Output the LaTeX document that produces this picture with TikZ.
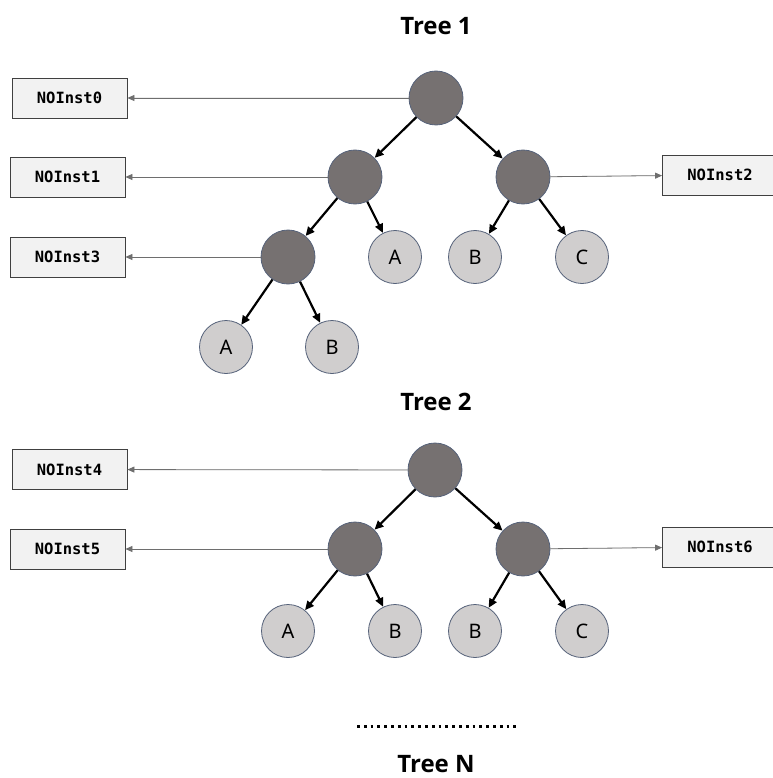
\documentclass[tikz,border=0pt]{standalone}
\usepackage{fontspec}
\usetikzlibrary{arrows.meta}
\newfontfamily\titlefont{Open Sans}
\newfontfamily\instfont{DejaVu Sans Mono}
\newfontfamily\leaffont{Noto Sans}
\definecolor{innerfill}{HTML}{767171}
\definecolor{leaffill}{HTML}{D0CECE}
\definecolor{ringline}{HTML}{56627A}
\definecolor{boxfill}{HTML}{F2F2F2}
\definecolor{boxline}{HTML}{404040}
\definecolor{ptrgrey}{HTML}{6E6E6E}
\begin{document}
\begin{tikzpicture}[x=1pt, y=-1pt,
  inner/.style={draw=ringline, circle, fill=innerfill, minimum size=54pt, inner sep=0pt, line width=0.8pt},
  leaf/.style={draw=ringline, circle, fill=leaffill, minimum size=53pt, inner sep=0pt, line width=0.8pt, font=\leaffont\fontsize{20}{20}\selectfont},
  inst/.style={draw=boxline, fill=boxfill, minimum width=115pt, minimum height=40pt, inner sep=0pt, line width=0.8pt, font=\instfont\bfseries\fontsize{15.5}{16}\selectfont},
  title/.style={inner sep=0pt, font=\titlefont\bfseries\fontsize{24}{24}\selectfont},
  child/.style={-{Triangle[length=9pt,width=8pt]}, line width=2.2pt},
  ptr/.style={-{Triangle[length=7pt,width=6pt]}, draw=ptrgrey, fill=ptrgrey, line width=0.8pt}]
\useasboundingbox (0,0) rectangle (772,778);
\node[title] (T1) at (436,26) {Tree 1};
\node[inner] (T1N0) at (436,98) {};
\node[inner] (T1N1) at (355,177) {};
\node[inner] (T1N2) at (523,177) {};
\node[inner] (T1N3) at (288,257) {};
\node[leaf] (T1N4) at (395,257) {A};
\node[leaf] (T1N5) at (475,257) {B};
\node[leaf] (T1N6) at (582,257) {C};
\node[leaf] (T1N7) at (226,347) {A};
\node[leaf] (T1N8) at (332,347) {B};
\node[inst] (T1B0) at (69.5,98) {NOInst0};
\node[inst] (T1B1) at (67.5,177) {NOInst1};
\node[inst] (T1B2) at (720,175) {NOInst2};
\node[inst] (T1B3) at (67.5,257) {NOInst3};
\draw[child] (T1N0) -- (T1N1);
\draw[child] (T1N0) -- (T1N2);
\draw[child] (T1N1) -- (T1N3);
\draw[child] (T1N1) -- (T1N4);
\draw[child] (T1N2) -- (T1N5);
\draw[child] (T1N2) -- (T1N6);
\draw[child] (T1N3) -- (T1N7);
\draw[child] (T1N3) -- (T1N8);
\draw[ptr] (T1N0) -- (T1B0);
\draw[ptr] (T1N1) -- (T1B1);
\draw[ptr] (T1N2) -- (T1B2);
\draw[ptr] (T1N3) -- (T1B3);
\node[title] (T2) at (436,402) {Tree 2};
\node[inner] (T2N0) at (435,470) {};
\node[inner] (T2N1) at (355,549) {};
\node[inner] (T2N2) at (523,549) {};
\node[leaf] (T2N3) at (288,631) {A};
\node[leaf] (T2N4) at (395,631) {B};
\node[leaf] (T2N5) at (475,631) {B};
\node[leaf] (T2N6) at (582,631) {C};
\node[inst] (T2B0) at (69.5,469.5) {NOInst4};
\node[inst] (T2B1) at (67.5,549) {NOInst5};
\node[inst] (T2B2) at (720,547) {NOInst6};
\draw[child] (T2N0) -- (T2N1);
\draw[child] (T2N0) -- (T2N2);
\draw[child] (T2N1) -- (T2N3);
\draw[child] (T2N1) -- (T2N4);
\draw[child] (T2N2) -- (T2N5);
\draw[child] (T2N2) -- (T2N6);
\draw[ptr] (T2N0) -- (T2B0);
\draw[ptr] (T2N1) -- (T2B1);
\draw[ptr] (T2N2) -- (T2B2);
\coordinate (D0) at (357,726);
\coordinate (D1) at (518,726);
\draw[line width=3pt, dash pattern=on 2.8pt off 4pt] (D0) -- (D1);
\node[title] (TN) at (436,764) {Tree N};
\end{tikzpicture}
\end{document}
